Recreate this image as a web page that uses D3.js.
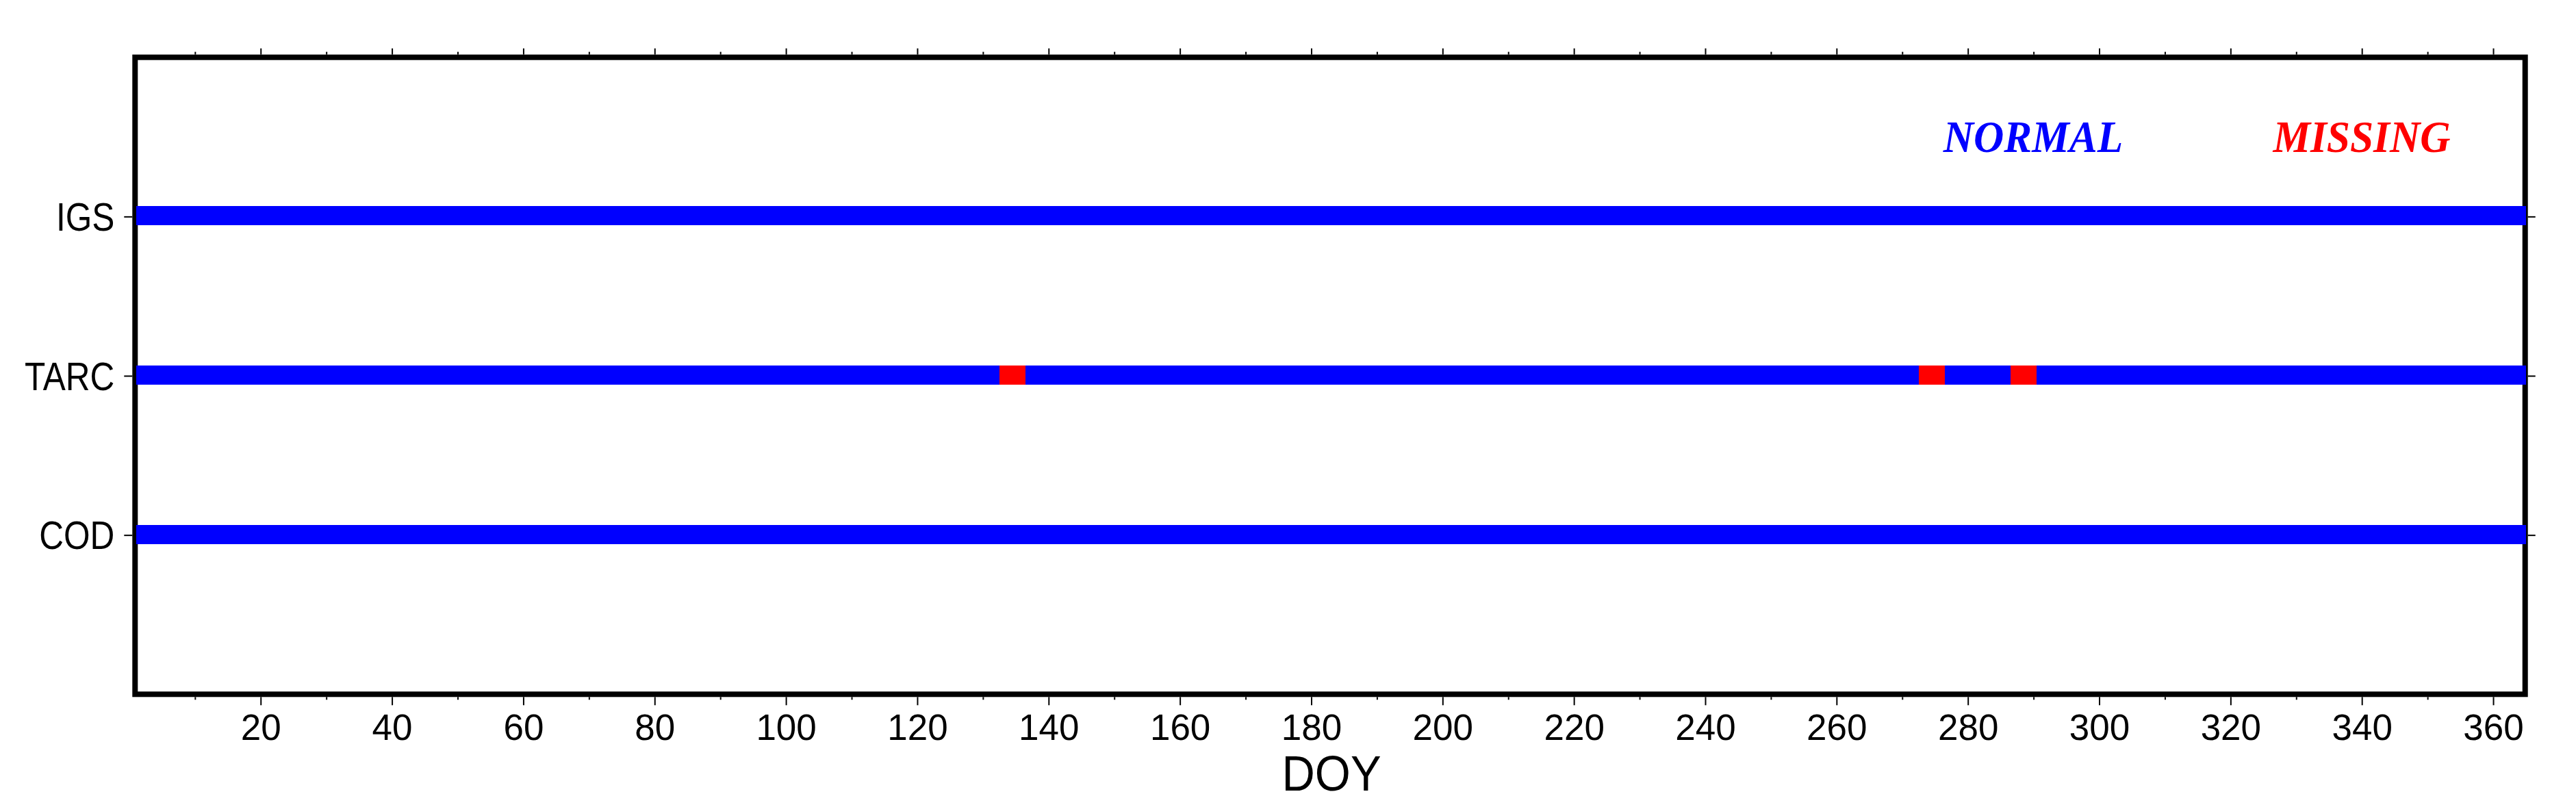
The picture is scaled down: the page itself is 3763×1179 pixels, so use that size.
<!DOCTYPE html>
<html>
<head>
<meta charset="utf-8">
<script src="https://cdn.jsdelivr.net/npm/d3@7"></script>
<style>
  html, body { margin: 0; padding: 0; background: #fff; }
  svg { display: block; }
</style>
</head>
<body>
<svg id="chart" width="3763" height="1179"></svg>
<script>
// ---- data ----
const categories = ["IGS", "TARC", "COD"];
const categoryLevels = [3, 2, 1];
const igsMissing = [];
const tarcMissing = [133, 134, 135, 136, 273, 274, 275, 276, 287, 288, 289, 290];
const codMissing = [];
const missingBySeries = [igsMissing, tarcMissing, codMissing];
const dayDomain = [1, 365];
const majorTicks = [20, 40, 60, 80, 100, 120, 140, 160, 180, 200, 220, 240, 260, 280, 300, 320, 340, 360];
const minorTicks = [10, 30, 50, 70, 90, 110, 130, 150, 170, 190, 210, 230, 250, 270, 290, 310, 330, 350];
const legendLabels = ["NORMAL", "MISSING"];
const statusColors = { normal: "#0000ff", missing: "#ff0000" };

// ---- layout ----
const frame = { left: 197.3, right: 3688.7, top: 83.7, bottom: 1014.3, stroke: 8 };
const svg = d3.select("#chart");

const x = d3.scaleLinear().domain(dayDomain).range([198.5, 3690]);
const y = d3.scaleLinear().domain([0, 4]).range([frame.bottom, frame.top]);

// build runs of status per series
function runsFor(missing) {
  const set = new Set(missing);
  const runs = [];
  for (let d = dayDomain[0]; d <= dayDomain[1]; d++) {
    const st = set.has(d) ? "missing" : "normal";
    const last = runs[runs.length - 1];
    if (last && last.status === st && last.end === d - 1) last.end = d;
    else runs.push({ status: st, start: d, end: d });
  }
  return runs;
}

// frame
svg.append("rect")
  .attr("x", frame.left).attr("y", frame.top)
  .attr("width", frame.right - frame.left)
  .attr("height", frame.bottom - frame.top)
  .attr("fill", "none").attr("stroke", "#000")
  .attr("stroke-width", frame.stroke);

// axes ticks (outside frame)
const half = frame.stroke / 2;
function styleAxis(g) {
  g.select(".domain").remove();
  g.selectAll(".tick line").attr("stroke", "#000").attr("stroke-width", 2);
}
svg.append("g").attr("transform", `translate(0,${frame.bottom + half})`)
  .call(d3.axisBottom(x).tickValues(majorTicks).tickSize(12).tickPadding(13).tickFormat(d3.format("d")))
  .call(styleAxis)
  .call(g => g.selectAll("text").attr("font-family", "'Liberation Sans', Arial, sans-serif")
    .attr("font-size", 53).attr("fill", "#000"));
svg.append("g").attr("transform", `translate(0,${frame.bottom + half})`)
  .call(d3.axisBottom(x).tickValues(minorTicks).tickSize(4).tickFormat(""))
  .call(styleAxis);
svg.append("g").attr("transform", `translate(0,${frame.top - half})`)
  .call(d3.axisTop(x).tickValues(majorTicks).tickSize(9).tickFormat(""))
  .call(styleAxis);
svg.append("g").attr("transform", `translate(0,${frame.top - half})`)
  .call(d3.axisTop(x).tickValues(minorTicks).tickSize(4).tickFormat(""))
  .call(styleAxis);
svg.append("g").attr("transform", `translate(${frame.left - half},0)`)
  .call(d3.axisLeft(y).tickValues(categoryLevels).tickSize(12).tickFormat(""))
  .call(styleAxis);
svg.append("g").attr("transform", `translate(${frame.right + half},0)`)
  .call(d3.axisRight(y).tickValues(categoryLevels).tickSize(11).tickFormat(""))
  .call(styleAxis);

// y labels (condensed Helvetica-like)
const yFont = 58;
svg.append("g").selectAll("text").data(categories).join("text")
  .attr("transform", (d, i) => `translate(${frame.left - half - 26},${y(categoryLevels[i]) + yFont * 0.716 / 2}) scale(0.855,1)`)
  .attr("text-anchor", "end")
  .attr("font-family", "'Liberation Sans', Arial, sans-serif")
  .attr("font-size", yFont).attr("fill", "#000")
  .text(d => d);

// bars
const barH = 28;
const series = categories.map((c, i) => ({ name: c, level: categoryLevels[i], runs: runsFor(missingBySeries[i]) }));
svg.append("g").selectAll("g").data(series).join("g")
  .selectAll("rect").data(s => s.runs.map(r => ({ ...r, level: s.level }))).join("rect")
  .attr("x", r => x(Math.max(dayDomain[0], r.start - 0.5)))
  .attr("width", r => x(Math.min(dayDomain[1], r.end + 0.5)) - x(Math.max(dayDomain[0], r.start - 0.5)))
  .attr("y", r => y(r.level) - barH / 2 - 1)
  .attr("height", barH)
  .attr("fill", r => statusColors[r.status])
  .attr("shape-rendering", "crispEdges");

// legend text
const legendX = [2970, 3450];
const legendCol = [statusColors.normal, statusColors.missing];
svg.append("g").selectAll("text").data(legendLabels).join("text")
  .attr("transform", (d, i) => `translate(${legendX[i]},222) scale(0.93,1)`)
  .attr("text-anchor", "middle")
  .attr("font-family", "'Liberation Serif', 'Times New Roman', serif")
  .attr("font-weight", "bold").attr("font-style", "italic")
  .attr("font-size", 66)
  .attr("fill", (d, i) => legendCol[i])
  .text(d => d);

// x axis title
svg.append("text")
  .attr("transform", `translate(${(frame.left + frame.right) / 2 + 2},1155) scale(0.93,1)`)
  .attr("text-anchor", "middle")
  .attr("font-family", "'Liberation Sans', Arial, sans-serif")
  .attr("font-size", 72).attr("fill", "#000")
  .text("DOY");
</script>
</body>
</html>
